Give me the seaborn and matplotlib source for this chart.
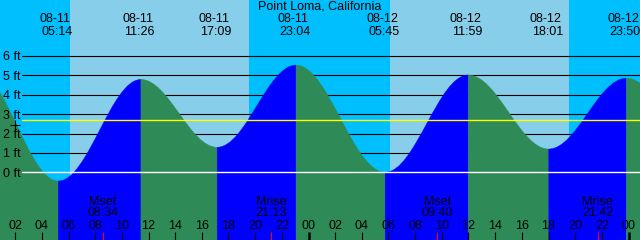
import matplotlib
matplotlib.use("Agg")
import matplotlib.pyplot as plt
import matplotlib.transforms as mtransforms
from matplotlib.path import Path
from matplotlib.patches import PathPatch
import pandas as pd
import seaborn as sns

# ---------------- data ----------------
title = "Point Loma, California"

# tide extremes shown in the chart
tide_date = ["08-11", "08-11", "08-11", "08-11", "08-12", "08-12", "08-12", "08-12"]
tide_clock = ["05:14", "11:26", "17:09", "23:04", "05:45", "11:59", "18:01", "23:50"]
tide_day = [0, 0, 0, 0, 1, 1, 1, 1]
tide_ft = [-0.45, 4.79, 1.29, 5.53, 0.00, 5.02, 1.20, 4.85]

# extremes just outside the view (estimated from the curve at the edges)
before_clock, before_day, before_ft = "23:00", -1, 5.30
after_clock, after_day, after_ft = "06:12", 2, 1.00

# sun
sunrise_clock = ["06:07", "06:07"]
sunset_clock = ["19:32", "19:32"]
sun_day = [0, 1]

# moon
moon_kind = ["Mset", "Mrise", "Mset", "Mrise"]
moon_clock = ["08:34", "21:13", "09:40", "21:42"]
moon_day = [0, 0, 1, 1]

# level lines
level_ft = [1, 2, 3, 4, 5, 6]
zero_ft = 0
mean_ft = 2.68

# current-time marker
now_hour = [1.99]
now_ft = [2.44]

hour_ticks = list(range(2, 49, 2))


def to_hours(clock, day):
    h, m = clock.split(":")
    return day * 24 + int(h) + int(m) / 60.0


tide_hour = [to_hours(c, d) for c, d in zip(tide_clock, tide_day)]
moon_hour = [to_hours(c, d) for c, d in zip(moon_clock, moon_day)]
sunrise_hour = [to_hours(c, d) for c, d in zip(sunrise_clock, sun_day)]
sunset_hour = [to_hours(c, d) for c, d in zip(sunset_clock, sun_day)]

ext_hour = [to_hours(before_clock, before_day)] + tide_hour + [to_hours(after_clock, after_day)]
ext_ft = [before_ft] + tide_ft + [after_ft]

# ---------------- style ----------------
sns.set_style("white")
plt.rcParams["font.family"] = ["Liberation Sans", "DejaVu Sans"]
plt.rcParams["text.color"] = "black"
FS = 9

NIGHT = "#00BFFF"
DAY = "#87CEEB"
RISE = "#0000FF"
FALL = "#2E8B57"

fig = plt.figure(figsize=(6.4, 2.4), dpi=100)
ax = fig.add_axes([0, 0, 1, 1])
X0, X1 = 0.8625, 48.8625
YB, YT = -3.493, 8.889
ax.set_xlim(X0, X1)
ax.set_ylim(YB, YT)
ax.set_axis_off()

# sky: night / day bands
edges = [X0 - 1] + sorted(sunrise_hour + sunset_hour) + [X1 + 1]
for i in range(len(edges) - 1):
    ax.axvspan(edges[i], edges[i + 1], color=NIGHT if i % 2 == 0 else DAY,
               lw=0, zorder=0)

# level lines (beneath the water)
line_start = 2.51
lv_df = pd.DataFrame({
    "hour": [line_start, X1 + 1] * len(level_ft),
    "ft": [lv for lv in level_ft for _ in range(2)],
    "level": [str(lv) for lv in level_ft for _ in range(2)],
})
sns.lineplot(data=lv_df, x="hour", y="ft", units="level", estimator=None,
             color="black", lw=0.8, ax=ax, zorder=1, legend=False)

# water: smooth half-cosine (cubic Bezier) between successive extremes
K = 0.3634
for ta, ha, tb, hb in zip(ext_hour[:-1], ext_ft[:-1], ext_hour[1:], ext_ft[1:]):
    d = tb - ta
    verts = [(ta, YB - 1), (ta, ha), (ta + K * d, ha), (tb - K * d, hb), (tb, hb),
             (tb, YB - 1), (ta, YB - 1)]
    codes = [Path.MOVETO, Path.LINETO, Path.CURVE4, Path.CURVE4, Path.CURVE4,
             Path.LINETO, Path.CLOSEPOLY]
    col = RISE if hb > ha else FALL
    ax.add_patch(PathPatch(Path(verts, codes), facecolor=col, edgecolor=col,
                           lw=0.3, zorder=2))

# zero and mean lines drawn over the water
ax.plot([line_start, X1 + 1], [zero_ft, zero_ft], color="white", lw=1.0, zorder=3)
ax.plot([line_start, X1 + 1], [mean_ft, mean_ft], color="#FFFF00", lw=1.0, zorder=3)

# level labels
ylab = ax.get_yaxis_transform()
for lv in [zero_ft] + level_ft:
    ax.text(0.005, lv, f"{lv} ft", transform=ylab, ha="left", va="center_baseline",
            fontsize=FS, color="black", zorder=5)

# current marker
sns.scatterplot(x=now_hour, y=now_ft, marker="+", s=55, linewidth=0.8,
                color="black", ax=ax, zorder=5, legend=False)

xt = ax.get_xaxis_transform()
# hour ticks and labels
for h in hour_ticks:
    midnight = h % 24 == 0
    ax.plot([h, h], [0, 0.035], transform=xt, color="black",
            lw=1.8 if midnight else 0.8, zorder=5, solid_capstyle="butt")
    ax.text(h, 0.058, f"{h % 24:02d}", transform=xt, ha="center", va="center",
            fontsize=FS, color="black", zorder=5)

# moon events
for k, c, mh in zip(moon_kind, moon_clock, moon_hour):
    ax.plot([mh, mh], [0, 0.035], transform=xt, color="red", lw=0.8, zorder=5,
            solid_capstyle="butt")
    ax.text(mh, 0.160, k, transform=xt, ha="center", va="center", fontsize=FS,
            color="black", zorder=5)
    ax.text(mh, 0.111, c, transform=xt, ha="center", va="center", fontsize=FS,
            color="black", zorder=5)

# tide labels at top
off_date = mtransforms.offset_copy(xt, fig=fig, x=-3, y=0, units="dots")
off_time = mtransforms.offset_copy(xt, fig=fig, x=-1.5, y=0, units="dots")
for d, c, th in zip(tide_date, tide_clock, tide_hour):
    ax.text(th, 0.921, d, transform=off_date, ha="center", va="center",
            fontsize=FS, color="black", zorder=5)
    ax.text(th, 0.868, c, transform=off_time, ha="center", va="center",
            fontsize=FS, color="black", zorder=5)

ax.text(0.5, 0.971, title, transform=ax.transAxes, ha="center", va="center",
        fontsize=FS, color="black", zorder=5)

fig.savefig("out.png", dpi=100)
